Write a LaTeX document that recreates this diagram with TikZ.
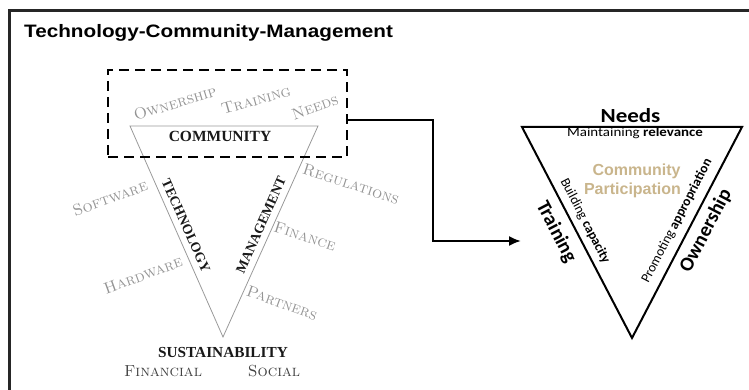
\documentclass[tikz,border=0pt]{standalone}
\usepackage{fontspec}
\usetikzlibrary{arrows.meta}
\newfontfamily\titlef[FakeStretch=1.15]{Liberation Sans}
\newfontfamily\calf[FakeStretch=1.15]{Carlito}
\newfontfamily\calr{Carlito}
\newfontfamily\arialf{Liberation Sans}
\newfontfamily\serifb{Liberation Serif}
\definecolor{tan}{RGB}{201,181,140}
\tikzset{
  graytxt/.style={inner sep=0pt, text=black!42, font=\fontsize{16}{16}\selectfont\scshape},
  darktxt/.style={inner sep=0pt, text=black!75, font=\fontsize{16}{16}\selectfont\scshape},
  boldlbl/.style={inner sep=0pt, text=black!90, font=\serifb\bfseries\fontsize{15.5}{16}\selectfont},
  sidelbl/.style={inner sep=0pt, font=\bfseries\calr\fontsize{20}{20}\selectfont},
  smalllbl/.style={inner sep=0pt, font=\calr\fontsize{13.5}{14}\selectfont},
  conn/.style={line width=2pt, -{Latex[length=12pt,width=10pt]}},
  dashbox/.style={draw, line width=2.5pt, dash pattern=on 10pt off 6pt, minimum width=239pt, minimum height=87pt, inner sep=0pt}
}
\begin{document}
\begin{tikzpicture}[x=1pt,y=-1pt]
\useasboundingbox (0,0) rectangle (749,390);
% frame
\draw[line width=2.5pt, black!85] (9.5,391) -- (9.5,10.5) -- (750,10.5);
% title
\node[anchor=base west, inner sep=0pt, font=\titlef\bfseries\fontsize{18}{20}\selectfont] (title) at (24,38) {Technology-Community-Management};

% left triangle
\coordinate (lA) at (130,126);
\coordinate (lB) at (318,126);
\coordinate (lC) at (223,337);
\draw[black!40, line width=0.8pt] (lA) -- (lB) -- (lC) -- cycle;

\node[graytxt, rotate=17] (own) at (175,103) {Ownership};
\node[graytxt, rotate=16] (trn) at (256,100) {Training};
\node[graytxt, rotate=20] (nds) at (315,107) {Needs};
\node[boldlbl] (comm) at (220,136.5) {COMMUNITY};
\node[graytxt, rotate=20] (sw) at (110,198) {Software};
\node[boldlbl, font=\serifb\bfseries\fontsize{13.8}{14}\selectfont, rotate=-66] (tech) at (186,226) {TECHNOLOGY};
\node[graytxt, rotate=20] (hw) at (143,275) {Hardware};
\node[boldlbl, font=\serifb\bfseries\fontsize{13.8}{14}\selectfont, rotate=66] (mgmt) at (261,225) {MANAGEMENT};
\node[graytxt, rotate=-18] (reg) at (351,184) {Regulations};
\node[graytxt, rotate=-18] (fin) at (305,236) {Finance};
\node[graytxt, rotate=-20] (prt) at (282,303) {Partners};
\node[boldlbl, font=\serifb\bfseries\fontsize{15.3}{16}\selectfont] (sus) at (223,353) {SUSTAINABILITY};
\node[darktxt] (finl) at (163,371.5) {Financial};
\node[darktxt] (soc) at (274,371.5) {Social};

% dashed box and connector
\node[dashbox] (box) at (227.5,113.5) {};
\coordinate (start) at ([yshift=-6.5pt]box.east);
\coordinate (bend1) at (433,120);
\coordinate (bend2) at (433,241);
\coordinate (tip) at (521,241);
\draw[conn] (start) -- (bend1) -- (bend2) -- (tip);

% right triangle
\coordinate (rA) at (522,127);
\coordinate (rB) at (742,127);
\coordinate (rC) at (632,338);
\draw[line width=2pt] (rA) -- (rB) -- (rC) -- cycle;

\node[anchor=base, inner sep=0pt, font=\calf\bfseries\fontsize{20}{20}\selectfont] (needs) at (630.5,122.7) {Needs};
\node[anchor=base, inner sep=0pt, font=\calf\fontsize{13}{14}\selectfont] (maint) at (635,137) {Maintaining \textbf{relevance}};
\node[anchor=base, inner sep=0pt, text=tan, font=\arialf\bfseries\fontsize{16}{16}\selectfont] (cp1) at (636.5,175.7) {Community};
\node[anchor=base, inner sep=0pt, text=tan, font=\arialf\bfseries\fontsize{16}{16}\selectfont] (cp2) at (632.5,194) {Participation};
\node[smalllbl, rotate=-62.5] (build) at (585,221) {Building \textbf{capacity}};
\node[sidelbl, rotate=-62.5] (train) at (556,232) {Training};
\node[smalllbl, rotate=62.5] (promo) at (677,221) {Promoting \textbf{appropriation}};
\node[sidelbl, rotate=62.5] (ownr) at (706,231) {Ownership};
\end{tikzpicture}
\end{document}
